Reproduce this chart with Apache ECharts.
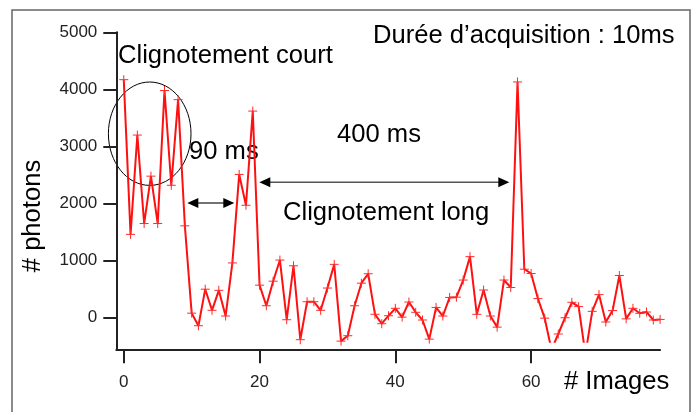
<!DOCTYPE html>
<html>
<head>
<meta charset="utf-8">
<script src="https://cdn.jsdelivr.net/npm/echarts@6/dist/echarts.min.js"></script>
<style>
html, body { margin: 0; padding: 0; background: #ffffff; }
#chart { width: 692px; height: 412px; }
</style>
</head>
<body>
<div id="chart"></div>
<script>
// Photon counts per image (10 ms acquisition each)
const photons = [
  4170, 1460, 3200, 1650, 2480, 1650, 3980, 2320, 3820, 1610,
  80, -140, 500, 130, 480, 30, 960, 2510, 1970, 3620,
  570, 210, 640, 1010, -35, 910, -385, 280, 280, 130,
  520, 935, -410, -315, 210, 605, 770, 60, -105, 35,
  165, 10, 275, 95, -40, -375, 180, 30, 355, 360,
  660, 1070, 60, 485, 30, -165, 660, 530, 4130, 850,
  775, 335, -8, -560, -285, 0, 270, 195, -640, 112,
  405, -75, 125, 740, -20, 165, 78, 100, -40, -30
];
const imageIndex = photons.map(function (_, i) { return i; });
const xTicks = [0, 20, 40, 60];
const yTicks = [0, 1000, 2000, 3000, 4000, 5000];

const xMin = -1.1, xMax = 79;
const yAxisMin = -553, yClipMin = -420, yMax = 5000;

const FONT = 'Liberation Sans, Arial, Helvetica, sans-serif';
const AX = '#222222';
const BIG = '25.6px ';

const chart = echarts.init(document.getElementById('chart'), null, { renderer: 'canvas' });

const option = {
  backgroundColor: '#ffffff',
  animation: false,
  grid: [
    { left: 116.3, right: 31.9, top: 32.3, height: 317, containLabel: false },
    { left: 116.3, right: 31.9, top: 32.3, height: 309.4, containLabel: false }
  ],
  xAxis: [
    {
      type: 'value', gridIndex: 0, min: xMin, max: xMax,
      splitLine: { show: false },
      axisLine: { show: true, onZero: false, lineStyle: { color: AX, width: 2 } },
      axisTick: { show: true, inside: false, length: 14, customValues: xTicks, lineStyle: { color: AX, width: 2 } },
      axisLabel: { show: true, customValues: xTicks, margin: 25, color: AX, fontFamily: FONT, fontSize: 17,
        formatter: function (v) { return String(v); } }
    },
    {
      type: 'value', gridIndex: 1, min: xMin, max: xMax, show: false
    }
  ],
  yAxis: [
    {
      type: 'value', gridIndex: 0, min: yAxisMin, max: yMax,
      splitLine: { show: false },
      axisLine: { show: true, onZero: false, lineStyle: { color: AX, width: 2 } },
      axisTick: { show: true, inside: false, length: 13, customValues: yTicks, lineStyle: { color: AX, width: 2 } },
      axisLabel: { show: true, customValues: yTicks, margin: 19, color: AX, fontFamily: FONT, fontSize: 17,
        formatter: function (v) { return String(v); } }
    },
    {
      type: 'value', gridIndex: 1, min: yClipMin, max: yMax, show: false
    }
  ],
  series: [
    {
      type: 'line',
      xAxisIndex: 1, yAxisIndex: 1,
      data: imageIndex.map(function (i) { return [i, photons[i]]; }),
      clip: true,
      showSymbol: true,
      symbol: 'path://M0 5H10M5 0V10',
      symbolSize: 9,
      lineStyle: { color: '#ff1010', width: 2 },
      itemStyle: { color: 'rgba(0,0,0,0)', borderColor: '#ff2a2a', borderWidth: 1 },
      emphasis: { disabled: true }
    }
  ],
  graphic: [
    { type: 'rect', silent: true, shape: { x: 12, y: 10, width: 678, height: 430 },
      style: { fill: 'none', stroke: '#666666', lineWidth: 1.5 } },
    { type: 'ellipse', silent: true, shape: { cx: 149.7, cy: 133.7, rx: 41.3, ry: 51.7 },
      style: { fill: 'none', stroke: '#000000', lineWidth: 1 } },
    // 90 ms arrow
    { type: 'line', silent: true, shape: { x1: 197, y1: 203, x2: 225, y2: 203 },
      style: { stroke: '#444444', lineWidth: 1.5 } },
    { type: 'polygon', silent: true, shape: { points: [[187.3, 203], [198.3, 198], [198.3, 208]] },
      style: { fill: '#000000' } },
    { type: 'polygon', silent: true, shape: { points: [[234.3, 203], [223.3, 198], [223.3, 208]] },
      style: { fill: '#000000' } },
    // 400 ms arrow
    { type: 'line', silent: true, shape: { x1: 268, y1: 182.3, x2: 500, y2: 182.3 },
      style: { stroke: '#555555', lineWidth: 1.5 } },
    { type: 'polygon', silent: true, shape: { points: [[259.3, 182.3], [270.3, 177.3], [270.3, 187.3]] },
      style: { fill: '#000000' } },
    { type: 'polygon', silent: true, shape: { points: [[509.3, 182.3], [498.3, 177.3], [498.3, 187.3]] },
      style: { fill: '#000000' } },
    // annotation texts
    { type: 'text', silent: true, x: 118, y: 56,
      style: { text: 'Clignotement court', fill: '#000', font: BIG + FONT, textAlign: 'left', textVerticalAlign: 'middle' } },
    { type: 'text', silent: true, x: 189, y: 152,
      style: { text: '90 ms', fill: '#000', font: BIG + FONT, textAlign: 'left', textVerticalAlign: 'middle' } },
    { type: 'text', silent: true, x: 337, y: 135,
      style: { text: '400 ms', fill: '#000', font: BIG + FONT, textAlign: 'left', textVerticalAlign: 'middle' } },
    { type: 'text', silent: true, x: 283, y: 213,
      style: { text: 'Clignotement long', fill: '#000', font: BIG + FONT, textAlign: 'left', textVerticalAlign: 'middle' } },
    { type: 'text', silent: true, x: 373, y: 36,
      style: { text: 'Durée d’acquisition : 10ms', fill: '#000', font: BIG + FONT, textAlign: 'left', textVerticalAlign: 'middle' } },
    { type: 'text', silent: true, x: 564, y: 382,
      style: { text: '# Images', fill: '#000', font: BIG + FONT, textAlign: 'left', textVerticalAlign: 'middle' } },
    { type: 'text', silent: true, x: 33, y: 216, rotation: Math.PI / 2,
      style: { text: '# photons', fill: '#000', font: BIG + FONT, textAlign: 'center', textVerticalAlign: 'middle' } }
  ]
};

chart.setOption(option);
</script>
</body>
</html>
